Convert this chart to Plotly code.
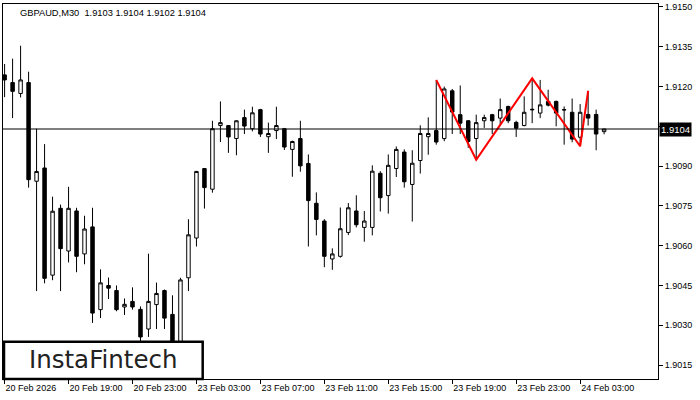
import plotly.graph_objects as go

# ---- data (GBPAUD, M30) ----
opens = [1.91244, 1.91215, 1.91174, 1.91215, 1.90843, 1.90893, 1.90489, 1.90741, 1.90580, 1.90731,
         1.90569, 1.90671, 1.90359, 1.90450, 1.90431, 1.90369, 1.90390, 1.90360, 1.90286, 1.90378,
         1.90431, 1.90341, 1.90221, 1.90479, 1.90629, 1.90891, 1.90813, 1.91053, 1.91053, 1.91004,
         1.91083, 1.91041, 1.91113, 1.91011, 1.91034, 1.91041, 1.90963, 1.91004, 1.90910, 1.90760,
         1.90693, 1.90550, 1.90560, 1.90650, 1.90731, 1.90669, 1.90669, 1.90873, 1.90789, 1.90891,
         1.90953, 1.90831, 1.90921, 1.91011, 1.91034, 1.91004, 1.91184, 1.91094, 1.91071, 1.91004,
         1.91071, 1.91094, 1.91081, 1.91125, 1.91065, 1.91053, 1.91112, 1.91100, 1.91144, 1.91144,
         1.91113, 1.91103, 1.91009, 1.91095, 1.91095, 1.91030]
highs = [1.91285, 1.91305, 1.91354, 1.91256, 1.91041, 1.90983, 1.90785, 1.90755, 1.90822, 1.90743,
         1.90713, 1.90743, 1.90511, 1.90480, 1.90450, 1.90401, 1.90443, 1.90371, 1.90570, 1.90461,
         1.90435, 1.90413, 1.90479, 1.90700, 1.90882, 1.90893, 1.91071, 1.91144, 1.91055, 1.91073,
         1.91113, 1.91124, 1.91116, 1.91064, 1.91124, 1.91044, 1.90996, 1.91071, 1.90944, 1.90801,
         1.90700, 1.90590, 1.90744, 1.90761, 1.90790, 1.90731, 1.90903, 1.90881, 1.90944, 1.90974,
         1.90963, 1.90960, 1.91054, 1.91084, 1.91225, 1.91200, 1.91191, 1.91204, 1.91074, 1.91094,
         1.91094, 1.91097, 1.91155, 1.91128, 1.91071, 1.91163, 1.91231, 1.91225, 1.91188, 1.91147,
         1.91125, 1.91155, 1.91134, 1.91184, 1.91113, 1.91040]
lows = [1.91160, 1.91081, 1.91159, 1.90819, 1.90429, 1.90458, 1.90470, 1.90429, 1.90537, 1.90500,
        1.90530, 1.90309, 1.90327, 1.90399, 1.90353, 1.90339, 1.90359, 1.90233, 1.90256, 1.90286,
        1.90286, 1.90199, 1.90199, 1.90429, 1.90597, 1.90740, 1.90800, 1.90991, 1.90950, 1.90941,
        1.91021, 1.91031, 1.91010, 1.90950, 1.91002, 1.90961, 1.90860, 1.90879, 1.90597, 1.90639,
        1.90519, 1.90509, 1.90555, 1.90640, 1.90669, 1.90615, 1.90639, 1.90729, 1.90721, 1.90859,
        1.90819, 1.90691, 1.90872, 1.90943, 1.90981, 1.90994, 1.91021, 1.91021, 1.90969, 1.90924,
        1.91044, 1.91021, 1.91056, 1.91062, 1.91010, 1.91050, 1.91062, 1.91081, 1.91125, 1.91050,
        1.90981, 1.90990, 1.90975, 1.91053, 1.90960, 1.91020]
closes = [1.91225, 1.91182, 1.91225, 1.90849, 1.90880, 1.90477, 1.90730, 1.90589, 1.90741, 1.90560,
          1.90663, 1.90346, 1.90460, 1.90440, 1.90359, 1.90379, 1.90369, 1.90256, 1.90390, 1.90420,
          1.90327, 1.90225, 1.90471, 1.90641, 1.90880, 1.90819, 1.91041, 1.91064, 1.91010, 1.91071,
          1.91051, 1.91101, 1.91021, 1.91023, 1.91053, 1.90972, 1.90993, 1.90901, 1.90770, 1.90699,
          1.90560, 1.90569, 1.90664, 1.90743, 1.90679, 1.90693, 1.90881, 1.90781, 1.90903, 1.90963,
          1.90841, 1.90911, 1.91023, 1.91023, 1.90991, 1.91191, 1.91104, 1.91062, 1.90993, 1.91064,
          1.91083, 1.91071, 1.91113, 1.91071, 1.91043, 1.91103, 1.91114, 1.91131, 1.91130, 1.91100,
          1.91112, 1.91002, 1.91103, 1.91081, 1.91021, 1.91040]

bar_index = list(range(len(opens)))

time_tick_idx = [0, 8, 16, 24, 32, 40, 48, 56, 64, 72]
time_tick_labels = ["20 Feb 2026", "20 Feb 19:00", "20 Feb 23:00", "23 Feb 03:00", "23 Feb 07:00",
                    "23 Feb 11:00", "23 Feb 15:00", "23 Feb 19:00", "23 Feb 23:00", "24 Feb 03:00"]

price_ticks = [1.9015, 1.9030, 1.9045, 1.9060, 1.9075, 1.9090, 1.9105, 1.9120, 1.9135, 1.9150]
# 1.9105 sits behind the current-price box, so its label is left blank
price_tick_labels = ["1.9015", "1.9030", "1.9045", "1.9060", "1.9075", "1.9090", "", "1.9120",
                     "1.9135", "1.9150"]

current_price = 1.9104
title_text = "GBPAUD,M30\u00a0\u00a01.9103 1.9104 1.9102 1.9104"

# pattern (triple top) vertices: bar index and which extreme
pattern_idx = [54, 59, 66, 72, 73]
pattern_kind = ["high", "low", "high", "low", "high"]
pattern_y = [highs[i] if k == "high" else lows[i] for i, k in zip(pattern_idx, pattern_kind)]

# ---- figure ----
fig = go.Figure()
fig.add_trace(go.Candlestick(
    x=bar_index, open=opens, high=highs, low=lows, close=closes,
    increasing=dict(line=dict(color="black", width=1), fillcolor="white"),
    decreasing=dict(line=dict(color="black", width=1), fillcolor="black"),
    whiskerwidth=0, showlegend=False, hoverinfo="skip",
))
fig.add_trace(go.Scatter(
    x=pattern_idx, y=pattern_y, mode="lines",
    line=dict(color="#ff0000", width=2), showlegend=False, hoverinfo="skip",
))

W, H = 700, 400
ml, mr, mt, mb = 2, 42, 2, 21
pw, ph = W - ml - mr, H - mt - mb

def px_x(x):
    return (x - ml) / pw

def px_y(y):
    return (H - mb - y) / ph

fig.add_shape(type="line", xref="paper", yref="y", x0=0, x1=1, y0=current_price, y1=current_price,
              line=dict(color="black", width=1), layer="above")

# logo box
fig.add_shape(type="rect", xref="paper", yref="paper",
              x0=px_x(3), x1=px_x(202), y0=px_y(379), y1=px_y(341.5),
              fillcolor="white", line=dict(color="black", width=2.5), layer="above")

fig.add_annotation(xref="paper", yref="paper", x=px_x(102), y=px_y(359.5),
                   text="InstaFintech", showarrow=False, xanchor="center", yanchor="middle",
                   font=dict(family="DejaVu Sans, sans-serif", size=24.5, color="#222222"))

fig.add_annotation(xref="paper", yref="paper", x=px_x(17), y=px_y(11.5),
                   text=title_text, showarrow=False, xanchor="left", yanchor="middle",
                   font=dict(family="Liberation Sans, Arial, sans-serif", size=9.3, color="black"))

fig.add_annotation(xref="paper", yref="y", x=1, y=current_price, xanchor="left", yanchor="middle",
                   xshift=1, text="1.9104", showarrow=False, bgcolor="black", borderpad=1,
                   font=dict(family="Liberation Sans, Arial, sans-serif", size=9.5, color="white"))

fig.update_layout(
    width=W, height=H,
    margin=dict(l=ml, r=mr, t=mt, b=mb),
    paper_bgcolor="white", plot_bgcolor="white",
    boxgap=0.38,
    font=dict(family="Liberation Sans, Arial, sans-serif", size=9, color="black"),
    xaxis=dict(
        range=[-0.2, 81.74], rangeslider=dict(visible=False),
        tickmode="array", tickvals=time_tick_idx, ticktext=time_tick_labels,
        ticks="outside", ticklen=4, tickcolor="black", tickwidth=1,
        ticklabelposition="outside right",
        showgrid=False, zeroline=False,
        showline=True, linecolor="black", linewidth=1, mirror=True,
        tickfont=dict(size=9, color="black"),
    ),
    yaxis=dict(
        range=[1.900975, 1.9151125], side="right",
        tickmode="array", tickvals=price_ticks, ticktext=price_tick_labels,
        ticks="outside", ticklen=4, tickcolor="black", tickwidth=1,
        showgrid=False, zeroline=False,
        showline=True, linecolor="black", linewidth=1, mirror=True,
        tickfont=dict(size=9, color="black"),
    ),
)

fig.write_html("out.html", config={"displayModeBar": False, "staticPlot": True},
               post_script="document.body.style.margin='0';document.body.style.overflow='hidden';")
